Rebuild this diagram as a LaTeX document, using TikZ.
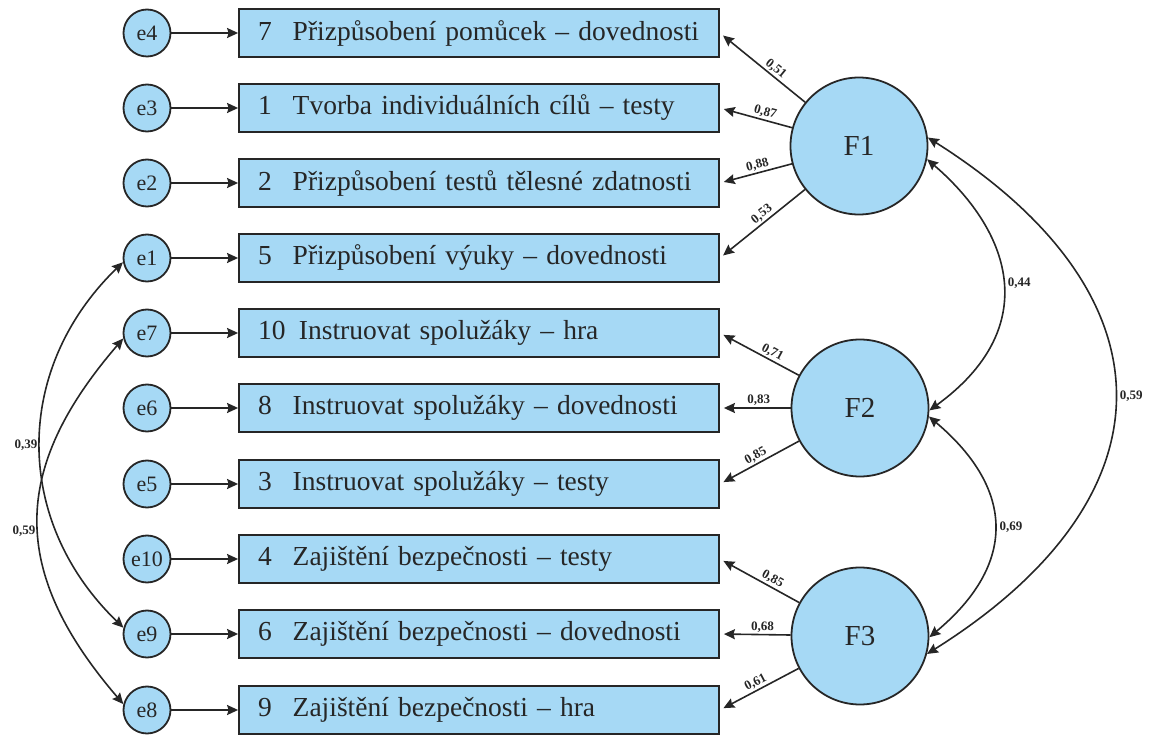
\documentclass[tikz,border=0pt]{standalone}
\usepackage{fontspec}
\setmainfont{Liberation Serif}
\usetikzlibrary{arrows.meta}
\definecolor{boxblue}{RGB}{166,217,245}
\definecolor{ink}{RGB}{38,38,38}
\begin{document}
\begin{tikzpicture}[x=1pt,y=-1pt,
  box/.style={draw=ink, line width=1.8pt, fill=boxblue, minimum height=48pt, text width=442pt, inner xsep=19pt, align=left, font=\fontsize{27.5}{30}\selectfont, text=ink},
  err/.style={circle, draw=ink, line width=1.8pt, fill=boxblue, minimum size=47pt, inner sep=0pt, font=\fontsize{22}{24}\selectfont, text=ink},
  fac/.style={circle, draw=ink, line width=1.8pt, fill=boxblue, minimum size=137pt, inner sep=0pt, font=\fontsize{29}{30}\selectfont, text=ink},
  tip/.tip={Stealth[length=11pt,width=10pt,inset=1.5pt]},
  arr/.style={draw=ink, line width=1.6pt, -tip},
  larr/.style={draw=ink, line width=1.6pt, tip-, shorten <=4pt},
  darr/.style={draw=ink, line width=1.6pt, tip-tip},
  lab/.style={font=\bfseries\fontsize{13}{14}\selectfont, text=ink, inner sep=1.5pt}]
\useasboundingbox (0,0) rectangle (1152,735);

% indicator boxes
\node[box] (b7)  at (479,33)  {7\hspace{21pt}Přizpůsobení pomůcek – dovednosti};
\node[box] (b1)  at (479,108) {1\hspace{21pt}Tvorba individuálních cílů – testy};
\node[box] (b2)  at (479,183) {2\hspace{21pt}Přizpůsobení testů tělesné zdatnosti};
\node[box] (b5)  at (479,258) {5\hspace{21pt}Přizpůsobení výuky – dovednosti};
\node[box] (b10) at (479,333) {10\hspace{13.5pt}Instruovat spolužáky – hra};
\node[box] (b8)  at (479,408) {8\hspace{21pt}Instruovat spolužáky – dovednosti};
\node[box] (b3)  at (479,484) {3\hspace{21pt}Instruovat spolužáky – testy};
\node[box] (b4)  at (479,559) {4\hspace{21pt}Zajištění bezpečnosti – testy};
\node[box] (b6)  at (479,634) {6\hspace{21pt}Zajištění bezpečnosti – dovednosti};
\node[box] (b9)  at (479,710) {9\hspace{21pt}Zajištění bezpečnosti – hra};

% error terms
\node[err] (e4)  at (147,33)  {e4};
\node[err] (e3)  at (147,108) {e3};
\node[err] (e2)  at (147,183) {e2};
\node[err] (e1)  at (147,258) {e1};
\node[err] (e7)  at (147,333) {e7};
\node[err] (e6)  at (147,408) {e6};
\node[err] (e5)  at (147,484) {e5};
\node[err] (e10) at (147,559) {e10};
\node[err] (e9)  at (147,634) {e9};
\node[err] (e8)  at (147,710) {e8};

% factors
\node[fac] (F1) at (859,146) {F1};
\node[fac] (F2) at (860,408) {F2};
\node[fac] (F3) at (860,636) {F3};

% error -> box
\foreach \e/\b in {e4/b7,e3/b1,e2/b2,e1/b5,e7/b10,e6/b8,e5/b3,e10/b4,e9/b6,e8/b9}
  \draw[arr] (\e) -- (\b);

% loadings
\draw[larr] (b7.east) -- node[lab,sloped,above,pos=0.6] {0,51} (F1);
\draw[larr] (b1.east) -- node[lab,sloped,above,pos=0.6] {0,87} (F1);
\draw[larr] (b2.east) -- node[lab,sloped,above,pos=0.55] {0,88} (F1);
\draw[larr] (b5.east) -- node[lab,sloped,above,pos=0.55] {0,53} (F1);
\draw[larr] (b10.east) -- node[lab,sloped,above,pos=0.62] {0,71} (F2);
\draw[larr] (b8.east) -- node[lab,sloped,above,pos=0.55] {0,83} (F2);
\draw[larr] (b3.east) -- node[lab,sloped,above,pos=0.5] {0,85} (F2);
\draw[larr] (b4.east) -- node[lab,sloped,above,pos=0.62] {0,85} (F3);
\draw[larr] (b6.east) -- node[lab,sloped,above,pos=0.6] {0,68} (F3);
\draw[larr] (b9.east) -- node[lab,sloped,above,pos=0.5] {0,61} (F3);

% factor covariances
\draw[darr] (F1.-11) .. controls (1015,235) and (1040,330) .. node[lab,pos=0.5,right=3pt] {0,44} (F2.-2);
\draw[darr] (F2.-7) .. controls (1016,490) and (1016,565) .. node[lab,pos=0.5,right=3pt] {0,69} (F3.-1);
\draw[darr] (F1.7) .. controls (1177,295) and (1177,497) .. node[lab,pos=0.5,right=3pt] {0,59} (F3.-15);

% error covariances
\draw[darr] (e1.190) .. controls (13,369) and (13,521) .. node[lab,pos=0.5,left=1pt] {0,39} (e9.165);
\draw[darr] (e7.193) .. controls (10,470) and (10,572) .. node[lab,pos=0.53,left=1pt] {0,59} (e8.166);
\end{tikzpicture}
\end{document}
